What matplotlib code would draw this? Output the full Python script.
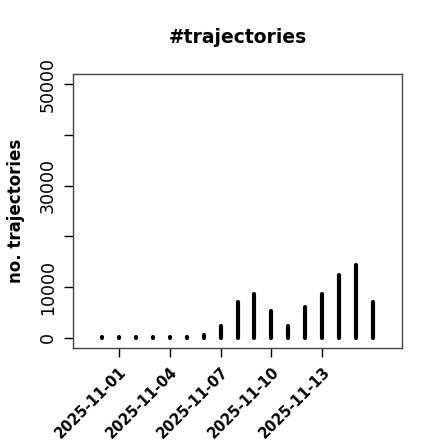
import matplotlib
matplotlib.use("Agg")
import matplotlib.pyplot as plt
import matplotlib.dates as mdates
import datetime as dt

# daily counts
dates = [dt.date(2025, 10, 31) + dt.timedelta(days=i) for i in range(17)]
counts = [100, 250, 250, 250, 250, 250, 600, 2300, 7000, 8550, 5200,
          2300, 6000, 8550, 12450, 14350, 7000]
tick_dates = [dt.date(2025, 11, 1), dt.date(2025, 11, 4), dt.date(2025, 11, 7),
              dt.date(2025, 11, 10), dt.date(2025, 11, 13)]
y_ticks = [0, 10000, 20000, 30000, 40000, 50000]
y_labels = ["0", "10000", "", "30000", "", "50000"]

fig = plt.figure(figsize=(4.4, 4.4), dpi=100)
ax = fig.add_axes([73 / 440, 1 - 348 / 440, 329 / 440, 274 / 440])

x = mdates.date2num(dates)
ax.vlines(x, 0, counts, color="black", linewidth=3, capstyle="round")

center = mdates.date2num(dt.date(2025, 11, 8))
ax.set_xlim(center - 9.7, center + 9.7)
ax.set_ylim(-2000, 52000)

ax.set_xticks(mdates.date2num(tick_dates))
ax.set_xticklabels([d.strftime("%Y-%m-%d") for d in tick_dates],
                   rotation=45, ha="right", rotation_mode="anchor",
                   fontsize=10.5, fontweight="bold")
ax.set_yticks(y_ticks)
ax.set_yticklabels(y_labels, rotation=90, va="center", fontsize=12.5)
ax.tick_params(axis="both", length=6.5, width=1, color="black", pad=5)

for side in ["top", "right", "bottom", "left"]:
    ax.spines[side].set_color("#444444")
    ax.spines[side].set_linewidth(1)

ax.set_title("#trajectories", fontsize=13.5, fontweight="bold", pad=22)
ax.set_ylabel("no. trajectories", fontsize=12, fontweight="bold", labelpad=10)

fig.savefig("out.png", dpi=100)
